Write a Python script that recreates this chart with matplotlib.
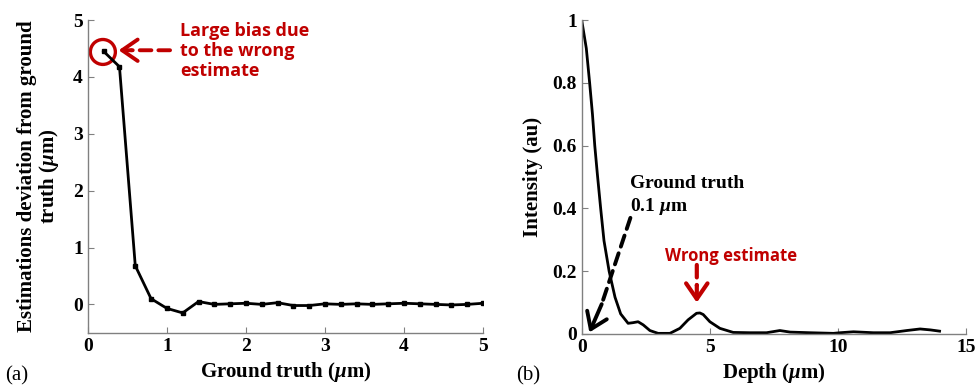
import matplotlib
matplotlib.use("Agg")
import matplotlib.pyplot as plt
from matplotlib.patches import Ellipse

# (a) deviation of estimate vs ground truth
truth_um = [0.2, 0.4, 0.6, 0.8, 1.0, 1.2, 1.4, 1.6, 1.8, 2.0, 2.2, 2.4, 2.6,
            2.8, 3.0, 3.2, 3.4, 3.6, 3.8, 4.0, 4.2, 4.4, 4.6, 4.8, 5.0]
deviation_um = [4.45, 4.18, 0.68, 0.10, -0.07, -0.15, 0.05, 0.0, 0.01, 0.02,
                0.0, 0.03, -0.02, -0.02, 0.01, 0.0, 0.01, 0.0, 0.01, 0.02,
                0.01, 0.0, -0.01, 0.0, 0.02]

# (b) intensity profile vs depth
depth_um = [0.0, 0.18, 0.31, 0.42, 0.51, 0.61, 0.74, 0.87, 1.07, 1.30, 1.52,
            1.81, 2.0, 2.2, 2.4, 2.66, 2.98, 3.44, 3.83, 4.15, 4.48, 4.61,
            4.74, 5.0, 5.39, 5.91, 6.56, 7.21, 7.73, 8.13, 8.9, 9.82, 10.08,
            10.6, 11.38, 12.03, 12.68, 13.2, 13.6, 13.96]
intensity = [1.0, 0.91, 0.80, 0.70, 0.60, 0.51, 0.40, 0.297, 0.20, 0.117,
             0.064, 0.034, 0.036, 0.039, 0.029, 0.011, 0.002, 0.002, 0.018,
             0.045, 0.066, 0.067, 0.062, 0.039, 0.018, 0.005, 0.004, 0.004,
             0.011, 0.006, 0.004, 0.002, 0.004, 0.007, 0.004, 0.004, 0.011,
             0.016, 0.013, 0.009]

RED = "#C00000"
SERIF = "Liberation Serif"
plt.rcParams["font.family"] = SERIF
plt.rcParams["mathtext.fontset"] = "custom"
plt.rcParams["mathtext.it"] = "Liberation Serif:italic:bold"
plt.rcParams["mathtext.rm"] = "Liberation Serif:bold"

fig = plt.figure(figsize=(9.76, 3.87), dpi=100)
ax1 = fig.add_axes([0.090, 0.140, 0.405, 0.808])
ax2 = fig.add_axes([0.596, 0.137, 0.394, 0.811])

HEAD = "->,head_length=0.8,head_width=0.55"


def style(ax):
    for s in ("top", "right"):
        ax.spines[s].set_visible(False)
    for s in ("left", "bottom"):
        ax.spines[s].set_color("#808080")
        ax.spines[s].set_linewidth(1.0)
    ax.tick_params(direction="in", length=4, color="#808080", labelsize=14)
    for lbl in ax.get_xticklabels() + ax.get_yticklabels():
        lbl.set_fontweight("bold")


def dashed_arrow(ax, start, mid, end, color, lw=2.8):
    # dashed shaft from start to mid, solid chevron head from mid to end
    ax.annotate("", xy=mid, xytext=start,
                arrowprops=dict(arrowstyle="-", color=color, lw=lw,
                                ls=(0, (3, 1.8)), shrinkA=0, shrinkB=0))
    ax.annotate("", xy=end, xytext=mid,
                arrowprops=dict(arrowstyle=HEAD, color=color, lw=lw,
                                shrinkA=0, shrinkB=0, mutation_scale=14))


ax1.plot(truth_um, deviation_um, color="black", lw=2.0, marker="s", ms=2.5,
         solid_joinstyle="round")
ax1.set_xlim(0, 5)
ax1.set_ylim(-0.5, 5)
ax1.set_xticks([0, 1, 2, 3, 4, 5])
ax1.set_yticks([0, 1, 2, 3, 4, 5])
style(ax1)
ax1.set_xlabel(r"Ground truth ($\mu$m)", fontsize=15, fontweight="bold", labelpad=4)
ax1.set_ylabel("Estimations deviation from ground\n" + r"truth ($\mu$m)",
               fontsize=15, fontweight="bold", labelpad=9, linespacing=1.0)

# red circle + dashed arrow
circ = Ellipse((0.19, 4.44), width=25 / 79, height=25 / 57, fill=False,
               edgecolor=RED, lw=2.4, clip_on=False)
ax1.add_patch(circ)
dashed_arrow(ax1, (1.04, 4.47), (0.55, 4.47), (0.39, 4.47), RED)
ax1.text(1.17, 4.97, "Large bias due\nto the wrong\nestimate", color=RED,
         fontsize=13, fontweight="bold", family="Open Sans", va="top",
         ha="left", linespacing=1.15)

ax2.plot(depth_um, intensity, color="black", lw=2.0, solid_joinstyle="round")
ax2.set_xlim(0, 15)
ax2.set_ylim(0, 1)
ax2.set_xticks([0, 5, 10, 15])
ax2.set_yticks([0, 0.2, 0.4, 0.6, 0.8, 1.0])
ax2.set_yticklabels(["0", "0.2", "0.4", "0.6", "0.8", "1"])
style(ax2)
ax2.set_xlabel(r"Depth ($\mu$m)", fontsize=15, fontweight="bold", labelpad=4)
ax2.set_ylabel("Intensity (au)", fontsize=15, fontweight="bold", labelpad=7)

ax2.text(1.88, 0.505, "Ground truth\n0.1 " + r"$\mu$m", fontsize=14,
         fontweight="bold", va="top", ha="left", linespacing=1.25)
dashed_arrow(ax2, (1.9, 0.37), (0.78, 0.095), (0.3, 0.005), "black")
ax2.text(3.24, 0.25, "Wrong estimate", color=RED, fontsize=12,
         fontweight="bold", family="Open Sans", ha="left", va="center")
dashed_arrow(ax2, (4.49, 0.22), (4.49, 0.155), (4.49, 0.1), RED, lw=3.0)

fig.text(0.005, 0.005, "(a)", fontsize=15, family=SERIF, ha="left", va="bottom")
fig.text(0.529, 0.005, "(b)", fontsize=15, family=SERIF, ha="left", va="bottom")

fig.savefig("out.png", dpi=100)
